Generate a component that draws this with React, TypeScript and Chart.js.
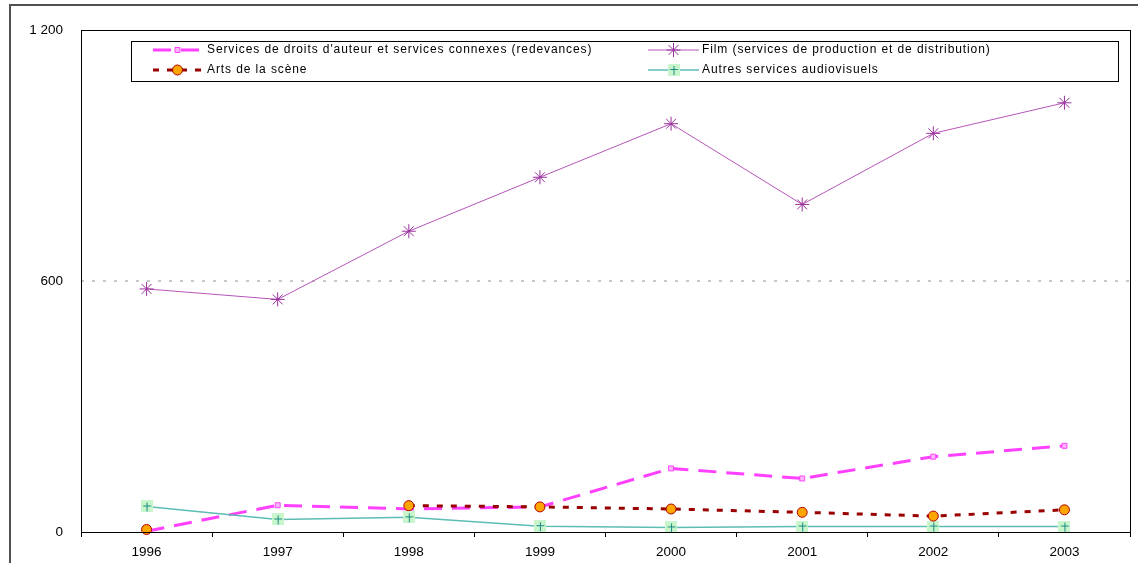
import React, { useEffect, useRef } from "react";
import { Chart, registerables, PointElement } from "chart.js";

Chart.register(...registerables);

// ---- data ----
const years = ["1996", "1997", "1998", "1999", "2000", "2001", "2002", "2003"];
const droitsAuteur = [2, 64, 55, 60, 152, 128, 180, 206];
const film = [581, 556, 719, 848, 976, 783, 953, 1026];
const artsScene: (number | null)[] = [6, null, 63, 60, 55, 47, 38, 53];
const autresAudiovisuels = [61, 30, 35, 14, 11, 13, 13, 13];
const yTickValues = [0, 600, 1200];
const seriesLabels = [
  "Services de droits d'auteur et services connexes (redevances)",
  "Film (services de production et de distribution)",
  "Arts de la scène",
  "Autres services audiovisuels",
];

function makeCrossBox(): HTMLCanvasElement {
  const c = document.createElement("canvas");
  c.width = 12;
  c.height = 12;
  const g = c.getContext("2d")!;
  g.fillStyle = "#c8f5cc";
  g.fillRect(0, 0, 12, 12);
  g.strokeStyle = "#1a8c84";
  g.lineWidth = 1;
  g.beginPath();
  g.moveTo(6.5, 2);
  g.lineTo(6.5, 11);
  g.moveTo(2.5, 5.5);
  g.lineTo(10.5, 5.5);
  g.stroke();
  return c;
}

const fmt = (v: number) => String(v).replace(/\B(?=(\d{3})+(?!\d))/g, " ");

const framePlugin = {
  id: "frame",
  beforeDraw(chart: any) {
    const ctx = chart.ctx;
    ctx.save();
    ctx.strokeStyle = "#505050";
    ctx.lineWidth = 2;
    ctx.beginPath();
    ctx.moveTo(10, 563);
    ctx.lineTo(10, 5);
    ctx.lineTo(1138, 5);
    ctx.stroke();
    ctx.restore();
  },
  afterDatasetsDraw(chart: any) {
    const { ctx, chartArea: a } = chart;
    ctx.save();
    ctx.strokeStyle = "#000";
    ctx.lineWidth = 1;
    ctx.strokeRect(Math.round(a.left) + 0.5, Math.round(a.top) + 0.5, Math.round(a.right - a.left), Math.round(a.bottom - a.top));
    ctx.restore();
  },
  afterDraw(chart: any) {
    const ctx = chart.ctx;
    ctx.save();
    // legend box
    ctx.fillStyle = "#fff";
    ctx.fillRect(131.5, 41.5, 987, 40);
    ctx.strokeStyle = "#000";
    ctx.lineWidth = 1;
    ctx.strokeRect(131.5, 41.5, 987, 40);
    const slots = [
      { x0: 153, x1: 202, tx: 207, y: 50 },
      { x0: 648, x1: 699, tx: 702, y: 50 },
      { x0: 153, x1: 202, tx: 207, y: 70 },
      { x0: 648, x1: 699, tx: 702, y: 70 },
    ];
    chart.data.datasets.forEach((ds: any, i: number) => {
      const s = slots[i];
      ctx.save();
      ctx.strokeStyle = ds.borderColor;
      ctx.lineWidth = ds.borderWidth;
      ctx.setLineDash(ds.borderDash || []);
      ctx.beginPath();
      ctx.moveTo(s.x0, s.y);
      ctx.lineTo(s.x1, s.y);
      ctx.stroke();
      ctx.restore();
      const p: any = new PointElement({});
      p.x = (s.x0 + s.x1) / 2;
      p.y = s.y;
      p.options = {
        pointStyle: ds.pointStyle,
        radius: ds.pointRadius,
        borderWidth: ds.pointBorderWidth,
        borderColor: ds.pointBorderColor,
        backgroundColor: ds.pointBackgroundColor,
        rotation: 0,
      };
      p.draw(ctx);
      ctx.save();
      ctx.fillStyle = "#000";
      ctx.font = "12px 'Liberation Sans', Arial, sans-serif";
      (ctx as any).letterSpacing = "0.9px";
      ctx.textBaseline = "middle";
      ctx.textAlign = "left";
      ctx.fillText(ds.label, s.tx, s.y);
      ctx.restore();
    });
    ctx.restore();
  },
};

export default function App() {
  const ref = useRef<HTMLCanvasElement>(null);
  useEffect(() => {
    const crossBox = makeCrossBox();
    const chart = new Chart(ref.current!, {
      type: "line",
      data: {
        labels: years,
        datasets: [
          {
            label: seriesLabels[0],
            data: droitsAuteur,
            borderColor: "#ff40ff",
            borderWidth: 3,
            borderDash: [18, 10],
            pointStyle: "rect",
            pointRadius: 3.5,
            pointBorderWidth: 1,
            pointBorderColor: "#ff40ff",
            pointBackgroundColor: "#ffb8ff",
            order: 3,
          },
          {
            label: seriesLabels[1],
            data: film,
            borderColor: "#b455b8",
            borderWidth: 1,
            pointStyle: "star",
            pointRadius: 7,
            pointBorderWidth: 1,
            pointBorderColor: "#9a2f9e",
            pointBackgroundColor: "#9a2f9e",
            order: 2,
          },
          {
            label: seriesLabels[2],
            data: artsScene,
            borderColor: "#990000",
            borderWidth: 3,
            borderDash: [6, 8],
            pointStyle: "circle",
            pointRadius: 5,
            pointBorderWidth: 1,
            pointBorderColor: "#b00000",
            pointBackgroundColor: "#ffa500",
            spanGaps: false,
            order: 0,
          },
          {
            label: seriesLabels[3],
            data: autresAudiovisuels,
            borderColor: "#5dbdb5",
            borderWidth: 1.5,
            pointStyle: crossBox,
            pointRadius: 6,
            pointBorderWidth: 0,
            pointBorderColor: "#1a8c84",
            pointBackgroundColor: "#c8f5cc",
            order: 1,
          },
        ] as any,
      },
      options: {
        animation: false,
        responsive: false,
        devicePixelRatio: 1,
        layout: { padding: { left: 0, top: 30, right: 7, bottom: 0 } },
        elements: { line: { tension: 0 } },
        datasets: { line: { clip: false } } as any,
        plugins: { legend: { display: false }, tooltip: { enabled: false }, title: { display: false } },
        scales: {
          x: {
            type: "category",
            offset: true,
            afterFit: (s: any) => { s.height = 31; },
            grid: { offset: true, drawOnChartArea: false, drawTicks: true, tickLength: 5, color: "#000" },
            border: { display: false },
            ticks: {
              color: "#000",
              padding: 7,
              maxRotation: 0,
              autoSkip: false,
              font: { family: "'Liberation Sans', Arial, sans-serif", size: 13.5 },
            },
          },
          y: {
            min: 0,
            max: 1200,
            afterFit: (s: any) => { s.width = 81; },
            afterBuildTicks: (s: any) => { s.ticks = yTickValues.map((v) => ({ value: v })); },
            grid: {
              drawTicks: false,
              lineWidth: 2,
              color: (c: any) => (c.tick && c.tick.value === 600 ? "#c8c8c8" : "transparent"),
            },
            border: { display: false, dash: [3, 8] },
            ticks: {
              color: "#000",
              padding: 18,
              callback: (v: any) => fmt(Number(v)),
              font: { family: "'Liberation Sans', Arial, sans-serif", size: 13.5 },
            },
          },
        },
      } as any,
      plugins: [framePlugin],
    });
    return () => chart.destroy();
  }, []);
  return (
    <div style={{ position: "absolute", left: 0, top: 0, width: 1138, height: 563, background: "#fff" }}>
      <canvas ref={ref} width={1138} height={563} />
    </div>
  );
}
